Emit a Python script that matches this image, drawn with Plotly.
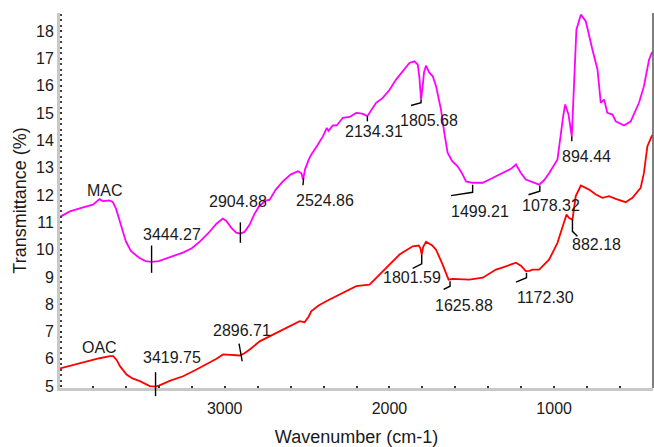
import plotly.graph_objects as go

# ---------------- data ----------------
mac_wn = [4000, 3940, 3860, 3800, 3760, 3740, 3700, 3680, 3660, 3630, 3600, 3570, 3520, 3480,
          3444, 3400, 3350, 3300, 3250, 3200, 3150, 3100, 3050, 3012, 2990, 2960, 2930, 2905,
          2880, 2850, 2820, 2790, 2750, 2727, 2690, 2647, 2600, 2556, 2535, 2524, 2512, 2490,
          2475, 2440, 2404, 2380, 2370, 2343, 2320, 2283, 2242, 2202, 2165, 2134, 2110, 2081,
          2041, 2000, 1960, 1920, 1879, 1848, 1828, 1818, 1808, 1798, 1790, 1778, 1760, 1737,
          1717, 1700, 1687, 1667, 1647, 1620, 1586, 1560, 1535, 1495, 1434, 1390, 1353, 1313,
          1262, 1232, 1202, 1172, 1141, 1091, 1060, 1030, 980, 960, 945, 933, 913, 893, 879,
          865, 838, 808, 768, 737, 717, 697, 677, 646, 626, 576, 535, 485, 455, 424, 408, 400]
mac_t = [11.2, 11.4, 11.55, 11.65, 11.85, 11.78, 11.8, 11.75, 11.5, 10.9, 10.3, 9.95, 9.7, 9.58,
         9.55, 9.58, 9.68, 9.78, 9.9, 10.05, 10.3, 10.6, 10.95, 11.14, 11.05, 10.8, 10.62, 10.59,
         10.65, 10.9, 11.3, 11.6, 11.8, 11.83, 12.2, 12.5, 12.75, 12.87, 12.8, 12.57, 12.95, 13.3,
         13.48, 13.8, 14.15, 14.46, 14.35, 14.55, 14.55, 14.83, 14.86, 15.01, 14.98, 14.89, 15.1, 15.38,
         15.56, 15.85, 16.23, 16.55, 16.84, 16.9, 16.78, 16.3, 15.5, 16.0, 16.5, 16.74, 16.5, 16.35,
         15.99, 15.5, 15.13, 14.28, 13.55, 13.25, 13.05, 12.8, 12.5, 12.45, 12.45, 12.58, 12.69, 12.81,
         12.96, 13.12, 12.81, 12.57, 12.5, 12.38, 12.55, 12.81, 13.3, 14.28, 14.9, 15.32, 14.95, 14.15, 16.11,
         18.06, 18.61, 18.37, 17.33, 16.6, 15.38, 15.5, 15.01, 14.95, 14.7, 14.55, 14.7, 15.38, 15.99, 16.96, 17.2, 17.25]

oac_wn = [4000, 3859, 3760, 3697, 3677, 3655, 3636, 3596, 3560, 3515, 3455, 3420, 3400, 3330,
          3253, 3180, 3111, 3050, 3010, 2960, 2909, 2880, 2848, 2788, 2687, 2600, 2545, 2515,
          2490, 2475, 2430, 2384, 2364, 2303, 2262, 2242, 2202, 2121, 2061, 2000, 1939, 1859,
          1822, 1812, 1804, 1795, 1778, 1740, 1717, 1677, 1641, 1616, 1515, 1434, 1353, 1293,
          1232, 1200, 1172, 1150, 1131, 1091, 1030, 980, 950, 925, 909, 889, 869, 838, 788,
          747, 707, 667, 626, 566, 525, 475, 455, 434, 408, 400]
oac_t = [5.65, 5.88, 6.02, 6.1, 6.1, 5.95, 5.73, 5.42, 5.28, 5.18, 5.0, 4.98, 5.02, 5.2,
         5.36, 5.58, 5.79, 6.0, 6.16, 6.15, 6.12, 6.2, 6.34, 6.64, 6.95, 7.2, 7.38, 7.34,
         7.55, 7.74, 7.95, 8.11, 8.17, 8.36, 8.48, 8.54, 8.66, 8.72, 9.09, 9.45, 9.82, 10.12,
         10.15, 10.05, 9.82, 10.1, 10.29, 10.15, 10.0, 9.45, 8.9, 8.93, 8.9, 8.97, 9.27, 9.39,
         9.52, 9.4, 9.21, 9.22, 9.27, 9.27, 9.64, 10.25, 10.86, 11.29, 11.16, 11.1, 11.96, 12.35, 12.2,
         12.02, 11.9, 11.96, 11.86, 11.74, 11.9, 12.26, 12.81, 13.79, 14.15, 14.2]

# peak labels: text, label position (wavenumber, value)
label_text = ["MAC", "OAC", "3444.27", "3419.75", "2904.88", "2896.71", "2524.86", "2134.31",
              "1805.68", "1499.21", "1078.32", "894.44", "1801.59", "1625.88", "1172.30", "882.18"]
label_wn = [3724, 3758, 3323, 3318, 2921, 2894, 2394, 2091, 1758, 1448, 1020, 803, 1864, 1545, 1050, 742]
label_t = [12.15, 6.4, 10.55, 6.03, 11.78, 7.04, 11.79, 14.34, 14.73, 11.41, 11.6, 13.43, 8.97, 7.96, 8.24, 10.19]

# leader lines (wavenumbers, values)
leader_wn = [[3444, 3444], [3420, 3420], [2905, 2905], [2913, 2894], [2521, 2525], [2134, 2134],
             [1808, 1808, 1869], [1495, 1495, 1626], [1087, 1087, 1156], [893, 893],
             [1804, 1804, 1859], [1632, 1632, 1671], [1168, 1168, 1232], [889, 889, 859]]
leader_t = [[10.15, 9.15], [5.51, 4.63], [11.0, 10.25], [6.56, 5.91], [12.63, 12.36], [14.89, 14.7],
            [15.5, 15.38, 15.28], [12.38, 12.1, 11.98], [12.35, 12.14, 12.01], [14.15, 13.97],
            [9.82, 9.48, 9.31], [8.84, 8.66, 8.54], [9.15, 8.97, 8.81], [11.1, 10.67, 10.49]]

x_ticks = [3000, 2000, 1000]
y_ticks = list(range(5, 19))

# ---------------- figure ----------------
Y0, Y1 = 4.93, 18.67
FONT = "Liberation Sans, Arial, sans-serif"
TXT = "#1a1a1a"

fig = go.Figure()
fig.add_trace(go.Scatter(x=mac_wn, y=mac_t, mode="lines", name="MAC",
                         line=dict(color="#ff00ff", width=1.8), showlegend=False))
fig.add_trace(go.Scatter(x=oac_wn, y=oac_t, mode="lines", name="OAC",
                         line=dict(color="#ff0000", width=1.8), showlegend=False))

for t, xw, yv in zip(label_text, label_wn, label_t):
    fig.add_annotation(x=xw, y=yv, xref="x", yref="y", text=t, showarrow=False,
                       font=dict(family=FONT, size=16, color=TXT),
                       xanchor="center", yanchor="middle")

shapes = []
for ws, vs in zip(leader_wn, leader_t):
    ps = [(v - Y0) / (Y1 - Y0) for v in vs]
    path = "M {} {}".format(ws[0], ps[0]) + "".join(" L {} {}".format(w, p) for w, p in zip(ws[1:], ps[1:]))
    shapes.append(dict(type="path", xref="x", yref="paper", path=path,
                       line=dict(color="black", width=1.4)))
# right frame line
shapes.append(dict(type="line", xref="paper", yref="paper", x0=1, x1=1, y0=0, y1=1,
                   line=dict(color="#555555", width=1.5)))

minor_x = list(range(600, 4000, 200))
fig.update_layout(
    width=654, height=447,
    margin=dict(l=60, r=1, t=13, b=59),
    paper_bgcolor="white", plot_bgcolor="white",
    shapes=shapes,
    font=dict(family=FONT, size=16, color=TXT),
    xaxis=dict(range=[4000, 400], showgrid=False, zeroline=False,
               showline=True, linecolor="#c8c8c8", linewidth=3,
               tickmode="array", tickvals=minor_x,
               ticktext=[str(v) if v in x_ticks else "" for v in minor_x],
               ticks="inside", ticklen=2, tickwidth=2, tickcolor="#333333",
               ticklabelstandoff=4,
               tickfont=dict(family=FONT, size=16, color=TXT),
               title=dict(text="Wavenumber (cm-1)", font=dict(family=FONT, size=18, color=TXT),
                          standoff=17)),
    yaxis=dict(range=[Y0, Y1], showgrid=False, zeroline=False,
               showline=True, linecolor="#c8c8c8", linewidth=3,
               tickmode="array", tickvals=y_ticks,
               ticks="inside", ticklen=2, tickwidth=2, tickcolor="#333333",
               minor=dict(dtick=0.2, tick0=0, ticks="inside", ticklen=2, tickwidth=1.5, tickcolor="#444444"),
               tickfont=dict(family=FONT, size=16, color=TXT),
               title=dict(text="Transmittance (%)", font=dict(family=FONT, size=18, color=TXT),
                          standoff=5)),
)

fig.write_html("out.html")
